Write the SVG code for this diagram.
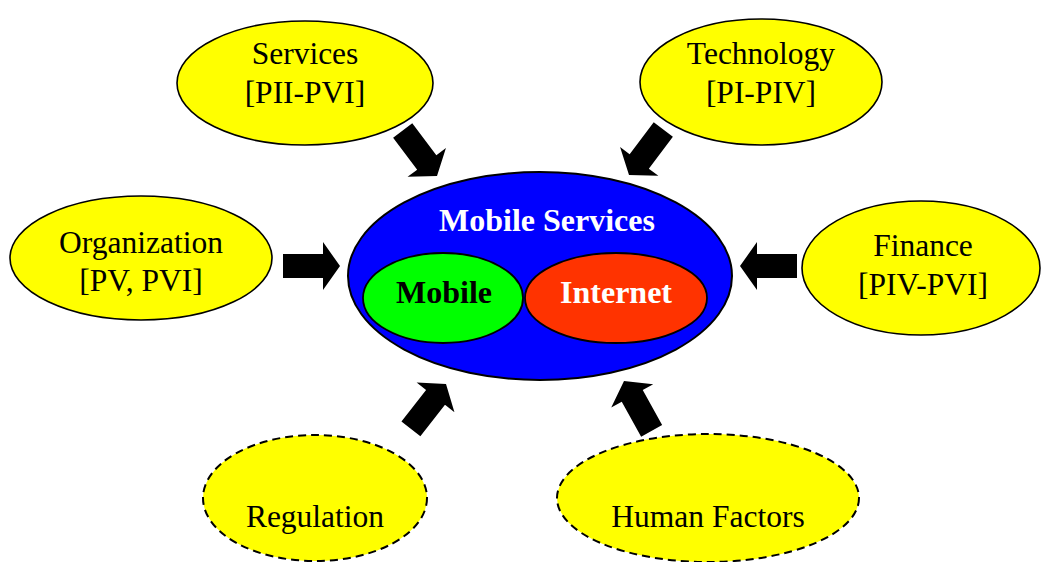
<svg xmlns="http://www.w3.org/2000/svg" width="1042" height="562" viewBox="0 0 1042 562">
  <defs>
    <style>
      .factor { fill: #ffff00; stroke: #000; stroke-width: 1.6; }
      .dashed { stroke-width: 2; stroke-dasharray: 8 5; }
      .lbl { font-family: "Liberation Serif", "Times New Roman", serif; font-size: 31.5px; fill: #000; text-anchor: middle; }
      .core { font-family: "Liberation Serif", "Times New Roman", serif; font-size: 32px; font-weight: bold; text-anchor: middle; }
      .arrow { fill: #000; }
    </style>
    <!-- block arrow, tip at origin, pointing along +x -->
    <path id="blk" d="M -57,-12 L -17,-12 L -17,-24 L 0,0 L -17,24 L -17,12 L -57,12 Z"/>
  </defs>

  <rect width="1042" height="562" fill="#fff"/>

  <!-- arrows pointing into the centre -->
  <g id="connectors" class="arrow">
    <use href="#blk" transform="translate(437,176) rotate(53)"/>
    <use href="#blk" transform="translate(629,175) rotate(127)"/>
    <use href="#blk" transform="translate(340,266)"/>
    <use href="#blk" transform="translate(740,266) rotate(180)"/>
    <use href="#blk" transform="translate(446,384) rotate(-52)"/>
    <use href="#blk" transform="translate(624,381) rotate(-119)"/>
  </g>

  <!-- centre: mobile services -->
  <g id="mobile-services">
    <ellipse cx="540" cy="276" rx="192" ry="104" fill="#0000ff" stroke="#000" stroke-width="2"/>
    <text class="core" x="547" y="231" fill="#fff">Mobile Services</text>
  </g>
  <g id="mobile">
    <ellipse cx="443" cy="298" rx="80" ry="45" fill="#00ff00" stroke="#000" stroke-width="1.8"/>
    <text class="core" x="444" y="303" fill="#000">Mobile</text>
  </g>
  <g id="internet">
    <ellipse cx="616" cy="298" rx="91" ry="45" fill="#ff3300" stroke="#000" stroke-width="1.8"/>
    <text class="core" x="616" y="303" fill="#fff">Internet</text>
  </g>

  <!-- surrounding factors -->
  <g id="services">
    <ellipse class="factor" cx="305" cy="83" rx="128" ry="62"/>
    <text class="lbl" x="305" y="64">Services</text>
    <text class="lbl" x="305" y="103">[PII-PVI]</text>
  </g>
  <g id="technology">
    <ellipse class="factor" cx="761" cy="82" rx="121" ry="63"/>
    <text class="lbl" x="761" y="64">Technology</text>
    <text class="lbl" x="761" y="103">[PI-PIV]</text>
  </g>
  <g id="organization">
    <ellipse class="factor" cx="141" cy="258" rx="131" ry="62"/>
    <text class="lbl" x="141" y="253">Organization</text>
    <text class="lbl" x="141" y="291">[PV, PVI]</text>
  </g>
  <g id="finance">
    <ellipse class="factor" cx="921" cy="268" rx="119" ry="67"/>
    <text class="lbl" x="923" y="256">Finance</text>
    <text class="lbl" x="923" y="295">[PIV-PVI]</text>
  </g>
  <g id="regulation">
    <ellipse class="factor dashed" cx="315" cy="498" rx="112" ry="63"/>
    <text class="lbl" x="315" y="527">Regulation</text>
  </g>
  <g id="human-factors">
    <ellipse class="factor dashed" cx="708" cy="498" rx="151" ry="64"/>
    <text class="lbl" x="708" y="527">Human Factors</text>
  </g>
</svg>
